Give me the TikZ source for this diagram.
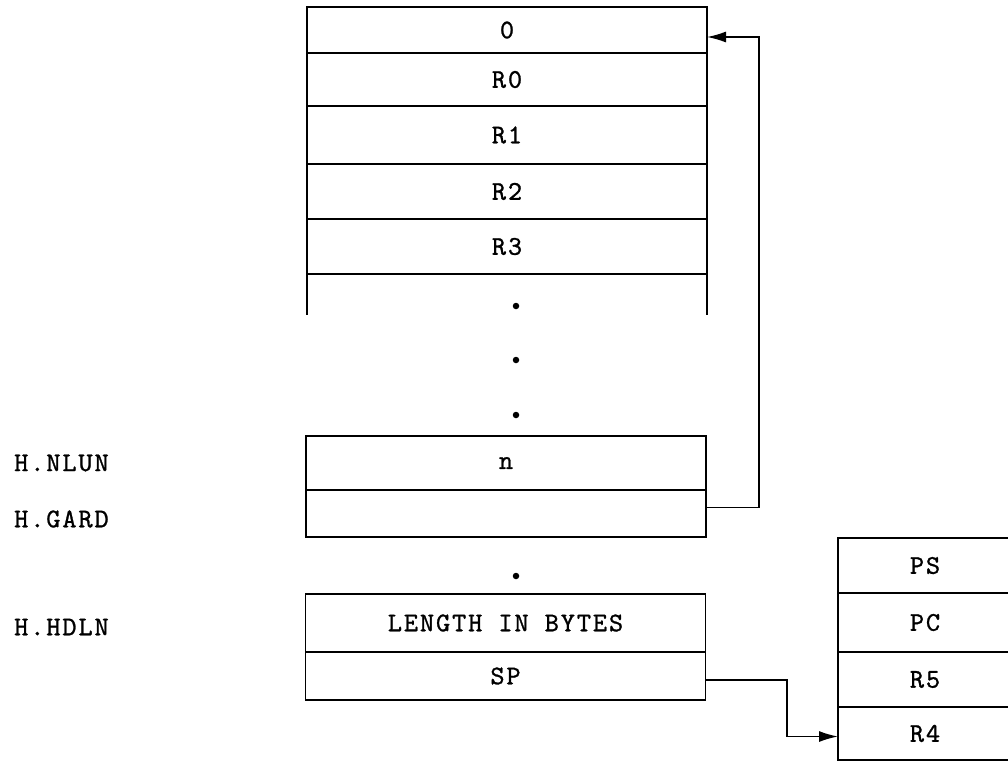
\documentclass[tikz,border=0pt]{standalone}
\usepackage{fontspec}
\usetikzlibrary{arrows.meta}
\newfontfamily\typewr{lmmono10-regular.otf}[LetterSpace=7,FakeBold=1]
\begin{document}
\begin{tikzpicture}[x=1pt,y=-1pt,
  lw/.style={line width=1.5pt},
  txt/.style={font=\typewr\fontsize{27}{32}\selectfont},
  cell/.style={draw, lw, txt, inner sep=0pt, outer sep=0pt, rectangle},
  wide/.style={cell, minimum width=400pt},
  narrow/.style={cell, minimum width=174pt},
  lab/.style={txt, anchor=west, inner sep=0pt},
  dot/.style={circle, fill=black, inner sep=0pt, minimum size=6.5pt},
  conn/.style={lw, -{Latex[length=19pt,width=11pt]}}]
\useasboundingbox (0,0) rectangle (1008,761);
\clip (0,0) rectangle (1008,761);
% main stack
\node[wide, minimum height=46pt] (c0) at (507,30) {0};
\node[wide, minimum height=53pt] (r0) at (507,79.5) {R0};
\node[wide, minimum height=58pt] (r1) at (507,135) {R1};
\node[wide, minimum height=55pt] (r2) at (507,191.5) {R2};
\node[wide, minimum height=55pt] (r3) at (507,246.5) {R3};
\draw[lw] (r3.south west) -- ++(0,41);
\draw[lw] (r3.south east) -- ++(0,41);
\node[dot] (d1) at (516,306) {};
\node[dot] (d2) at (516,360) {};
\node[dot] (d3) at (516,415) {};
% n / gard
\node[wide, minimum height=54pt] (n) at (506,463) {n};
\node[wide, minimum height=47pt] (gard) at (506,513.5) {};
\node[dot] (d4) at (516,576) {};
% length / sp
\node[wide, minimum height=58pt] (len) at (505.5,623) {LENGTH IN BYTES};
\node[wide, minimum height=48pt] (sp) at (505.5,676) {SP};
% right stack
\node[narrow, minimum height=55pt] (ps) at (925,565.5) {PS};
\node[narrow, minimum height=59pt] (pc) at (925,622.5) {PC};
\node[narrow, minimum height=55pt] (r5) at (925,679.5) {R5};
\node[narrow, minimum height=53pt] (r4) at (925,733.5) {R4};
% labels
\node[lab] (hnlun) at (14,463) {H.NLUN};
\node[lab] (hgard) at (14,519) {H.GARD};
\node[lab] (hhdln) at (14,627) {H.HDLN};
% connectors
\coordinate (v1) at (759,0);
\coordinate (v2) at (787,0);
\draw[conn] ([yshift=6pt]gard.east) -- ([yshift=6pt]gard.east -| v1)
  -- ([yshift=-7pt]c0.east -| v1) -- ([yshift=-7pt]c0.east);
\draw[conn] ([yshift=-4pt]sp.east) -- ([yshift=-4pt]sp.east -| v2)
  -- ([yshift=-3pt]r4.west -| v2) -- ([yshift=-3pt]r4.west);
\end{tikzpicture}
\end{document}
